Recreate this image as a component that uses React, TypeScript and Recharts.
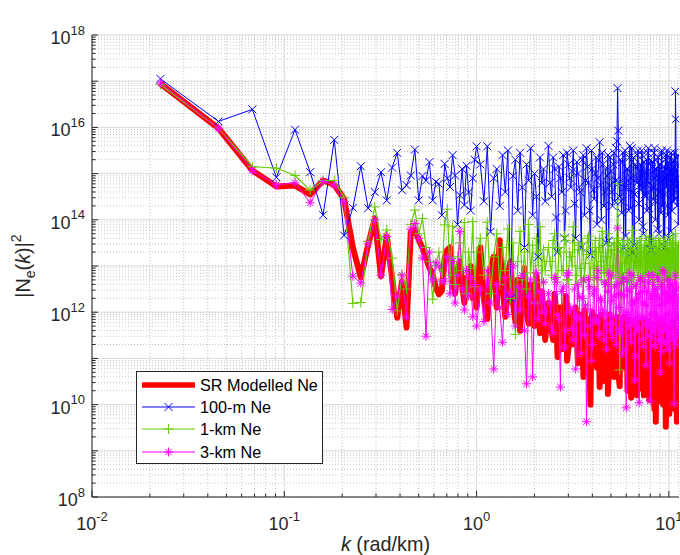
import React from 'react';
import { LineChart, Line, XAxis, YAxis, CartesianGrid, ReferenceLine } from 'recharts';

const FONT = '"Liberation Sans", Arial, Helvetica, sans-serif';
const AXIS_COLOR = '#262626';
const X_MIN = 0.01;
const X_MAX = 11.29;
const Y_MIN = 1e8;
const Y_MAX = 1e18;

// wavenumber bins, rad/km (every bin up to k=1, then thinned out)
const kValues = [
  0.0227, 0.0455, 0.0682, 0.0910, 0.1137, 0.1364, 0.1592, 0.1819, 0.2047, 0.2274,
  0.2501, 0.2729, 0.2956, 0.3184, 0.3411, 0.3638, 0.3866, 0.4093, 0.4321, 0.4548,
  0.4775, 0.5003, 0.5230, 0.5458, 0.5685, 0.5912, 0.6140, 0.6367, 0.6595, 0.6822,
  0.7049, 0.7277, 0.7504, 0.7732, 0.7959, 0.8186, 0.8414, 0.8641, 0.8869, 0.9096,
  0.9323, 0.9551, 0.9778, 1.0006,
  1.046, 1.092, 1.137, 1.182, 1.228, 1.273, 1.319, 1.364, 1.410, 1.455,
  1.501, 1.546, 1.592, 1.637, 1.683, 1.728, 1.774, 1.819, 1.865, 1.910,
  1.956, 2.001, 2.047, 2.092, 2.138, 2.183, 2.229, 2.274,
  2.365, 2.456, 2.547, 2.638, 2.729, 2.820, 2.911, 3.002, 3.093, 3.184,
  3.275, 3.366, 3.456, 3.547, 3.638, 3.729, 3.820, 3.911, 4.002, 4.093,
  4.184, 4.275, 4.366, 4.457, 4.548, 4.639, 4.730, 4.821, 4.912, 5.003,
  5.094, 5.185, 5.276, 5.367, 5.458, 5.549, 5.640, 5.731, 5.821, 5.912,
  6.003, 6.094, 6.185, 6.276, 6.367, 6.458, 6.549, 6.640, 6.731, 6.822,
  6.913, 7.004, 7.095, 7.186, 7.277, 7.368, 7.459, 7.550, 7.641, 7.732,
  7.823, 7.914, 8.004, 8.095, 8.186, 8.277, 8.368, 8.459, 8.550, 8.641,
  8.732, 8.823, 8.914, 9.005, 9.096, 9.187, 9.278, 9.369, 9.460, 9.551,
  9.642, 9.733, 9.824, 9.915, 10.006, 10.097, 10.188, 10.279, 10.370, 10.460,
  10.551, 10.642, 10.733, 10.824, 10.915, 11.006, 11.097, 11.188, 11.279,
];

// log10 |Ne(k)|^2
const srModelledLog = [
  16.95, 15.98, 15.07, 14.72, 14.74, 14.55, 14.85, 14.76, 14.45, 13.40,
  12.75, 13.46, 14.03, 12.78, 13.64, 12.74, 11.88, 12.67, 11.67, 13.74,
  13.78, 13.57, 13.39, 13.17, 12.96, 12.81, 12.53, 12.39, 12.46, 13.17,
  13.35, 13.40, 12.70, 12.40, 12.90, 13.10, 12.60, 12.20, 12.75, 12.50,
  13.00, 12.30, 12.65, 12.10,
  13.40, 12.30, 11.85, 12.90, 13.20, 12.10, 13.56, 12.60, 11.90, 12.80,
  13.10, 12.20, 11.80, 12.70, 11.60, 12.50, 12.95, 12.00, 11.75, 12.60,
  12.20, 11.70, 12.80, 12.30, 11.55, 12.45, 12.00, 11.40,
  12.20, 11.60, 12.40, 11.03, 12.10, 11.50, 12.35, 11.20, 12.00, 11.40,
  12.10, 10.90, 11.95, 11.55, 12.05, 10.70, 11.85, 10.00, 12.00, 11.30,
  11.90, 11.60, 10.38, 11.95, 11.10, 11.80, 11.45, 10.23, 11.95, 11.25,
  11.85, 10.60, 11.70, 11.90, 11.40, 10.40, 11.80, 11.20, 11.90, 10.80,
  11.75, 10.30, 11.85, 11.35, 10.15, 11.65, 11.80, 10.50, 11.55, 10.20,
  11.80, 11.15, 10.35, 11.70, 10.70, 11.85, 10.25, 11.50, 11.75, 10.45,
  11.80, 10.10, 11.60, 11.30, 10.60, 11.75, 10.20, 11.55, 9.63, 11.70,
  10.50, 11.65, 10.15, 11.80, 11.25, 10.05, 11.60, 10.40, 11.75, 10.80,
  9.52, 11.55, 11.20, 10.25, 11.70, 10.10, 11.50, 11.00, 10.30, 11.65,
  10.05, 11.50, 11.15, 10.20, 11.60, 9.63, 11.45, 10.35, 11.70,
];

const ne100mLog = [
  17.05, 16.13, 16.39, 14.92, 15.95, 15.03, 14.10, 15.73, 13.66, 14.26,
  15.16, 14.25, 14.60, 15.03, 14.42, 15.13, 15.45, 14.64, 14.75, 14.96,
  15.52, 14.42, 14.95, 14.85, 15.25, 14.42, 14.82, 14.78, 14.10, 15.21,
  14.90, 14.71, 15.40, 14.96, 13.90, 14.53, 15.10, 14.32, 15.17, 14.60,
  14.20, 14.90, 15.30, 15.59,
  15.20, 14.40, 15.59, 13.74, 14.90, 15.10, 14.30, 15.40, 14.60, 15.50,
  12.30, 14.95, 15.30, 14.20, 15.45, 14.70, 13.40, 15.20, 14.85, 15.55,
  14.10, 15.00, 14.50, 13.20, 15.35, 14.80, 15.10, 14.40,
  15.60, 14.50, 15.10, 13.30, 14.90, 15.40, 14.20, 15.20, 14.70, 15.50,
  13.60, 15.00, 14.60, 15.30, 14.10, 15.55, 14.80, 13.25, 15.10, 14.45,
  15.35, 14.90, 15.68, 14.00, 15.20, 14.60, 13.50, 15.40, 14.75, 15.05,
  14.30, 15.45, 14.85, 15.70, 15.93, 14.50, 14.40, 15.25, 13.40, 15.50,
  14.70, 15.10, 14.20, 15.60, 14.90, 13.30, 15.35, 14.55, 15.15, 14.80,
  15.50, 14.00, 15.20, 14.65, 15.40, 13.70, 15.05, 14.50, 15.30, 14.85,
  15.55, 14.25, 15.00, 13.35, 15.25, 14.70, 15.45, 14.40, 15.10, 14.95,
  13.80, 15.35, 14.60, 15.20, 14.15, 15.50, 14.85, 13.45, 15.15, 14.55,
  15.40, 14.90, 14.30, 15.25, 13.60, 15.05, 14.70, 15.45, 14.20, 15.00,
  14.80, 15.30, 14.45, 16.78, 14.70, 14.60, 15.20, 13.90, 14.95,
];

const ne1kmLog = [
  16.93, 15.98, 15.15, 15.12, 14.96, 14.64, 14.85, 14.85, 14.48, 12.19,
  12.21, 13.53, 14.28, 13.57, 13.78, 13.17, 12.03, 12.82, 12.50, 13.90,
  14.21, 13.70, 14.03, 13.40, 13.10, 12.28, 13.00, 13.30, 12.70, 13.89,
  14.23, 12.80, 13.86, 12.60, 13.20, 13.50, 12.90, 13.94, 12.40, 13.30,
  12.95, 13.96, 12.55, 13.30,
  13.60, 12.80, 13.95, 12.40, 13.20, 13.70, 12.60, 13.40, 12.90, 13.80,
  12.30, 13.50, 11.52, 13.10, 13.75, 12.70, 13.30, 12.50, 13.90, 12.85,
  13.45, 12.20, 13.60, 13.00, 13.85, 12.65, 13.35, 12.90,
  13.40, 12.80, 13.70, 12.65, 13.30, 12.90, 13.55, 12.70, 13.20, 13.85,
  12.60, 13.35, 12.95, 13.50, 12.75, 13.25, 13.65, 12.80, 13.40, 12.55,
  13.30, 13.00, 13.60, 12.70, 13.45, 12.85, 13.20, 13.70, 12.65, 13.35,
  12.90, 13.50, 12.75, 13.60, 13.50, 10.75, 13.30, 12.70, 13.45, 12.85,
  13.25, 13.55, 12.70, 13.40, 12.95, 13.77, 12.60, 13.30, 13.00, 13.50,
  12.75, 13.35, 12.85, 13.60, 12.65, 13.20, 13.45, 12.80, 13.30, 12.95,
  13.55, 12.70, 13.40, 12.90, 13.25, 13.60, 12.75, 13.35, 12.85, 13.45,
  12.65, 13.30, 13.00, 13.50, 12.80, 13.20, 13.40, 12.70, 13.55, 12.90,
  13.35, 12.75, 13.45, 12.85, 13.25, 13.60, 12.70, 13.30, 12.95, 13.50,
  12.80, 13.40, 12.90, 13.70, 12.75, 13.35, 13.05, 13.45, 12.85,
];

const ne3kmLog = [
  16.96, 15.98, 15.07, 14.76, 14.80, 14.37, 14.83, 14.75, 14.39, 12.78,
  12.63, 13.48, 14.00, 12.80, 13.64, 12.06, 12.35, 12.80, 11.90, 13.80,
  13.92, 13.60, 13.17, 11.48, 13.30, 12.70, 13.07, 13.00, 12.67, 12.67,
  13.20, 12.40, 13.10, 12.20, 12.80, 13.75, 12.50, 12.05, 12.90, 12.35,
  12.75, 11.90, 12.60, 11.70,
  12.50, 11.80, 12.90, 12.20, 10.77, 12.60, 12.10, 11.35, 12.75, 11.95,
  12.40, 13.00, 11.70, 12.55, 12.05, 12.80, 11.60, 10.45, 12.35, 12.70,
  10.60, 12.20, 12.85, 11.85, 12.45, 12.00, 12.65, 11.75,
  12.40, 11.70, 12.75, 11.95, 10.38, 12.55, 11.60, 12.85, 12.10, 11.40,
  10.77, 12.60, 11.85, 12.30, 11.50, 9.63, 12.70, 12.05, 11.30, 12.50,
  11.80, 12.90, 11.55, 12.25, 11.95, 12.65, 11.20, 12.45, 11.75, 12.80,
  11.45, 12.35, 11.90, 12.60, 12.40, 11.65, 12.40, 11.10, 12.75, 12.00,
  9.93, 12.50, 11.70, 12.85, 11.35, 12.20, 11.85, 10.53, 12.55, 11.60,
  12.30, 10.04, 12.70, 11.90, 12.45, 11.25, 12.65, 11.75, 12.15, 11.50,
  12.80, 11.80, 10.08, 12.40, 11.65, 12.60, 11.95, 11.30, 12.50, 11.70,
  12.75, 11.40, 12.30, 11.85, 12.55, 11.15, 12.90, 11.60, 12.20, 11.90,
  12.45, 11.35, 12.70, 11.75, 12.35, 10.90, 12.60, 11.55, 12.25, 11.80,
  12.50, 10.02, 12.40, 11.70, 12.65, 11.45, 12.30, 11.85, 12.55,
];

// the bins in between, for k > 2.4 where the curves get dense
const kFill = [
  2.410, 2.501, 2.592, 2.683, 2.774, 2.865, 2.956, 3.047, 3.138, 3.229,
  3.320, 3.411, 3.502, 3.593, 3.684, 3.775, 3.866, 3.957, 4.048, 4.139,
  4.230, 4.321, 4.412, 4.503, 4.593, 4.684, 4.775, 4.866, 4.957, 5.048,
  5.139, 5.230, 5.321, 5.412, 5.503, 5.594, 5.685, 5.776, 5.867, 5.958,
  6.049, 6.140, 6.231, 6.322, 6.413, 6.504, 6.595, 6.686, 6.777, 6.867,
  6.958, 7.049, 7.140, 7.231, 7.322, 7.413, 7.504, 7.595, 7.686, 7.777,
  7.868, 7.959, 8.050, 8.141, 8.232, 8.323, 8.414, 8.505, 8.596, 8.687,
  8.778, 8.869, 8.960, 9.051, 9.141, 9.232, 9.323, 9.414, 9.505, 9.596,
  9.687, 9.778, 9.869, 9.960, 10.051, 10.142, 10.233, 10.324, 10.415, 10.506,
  10.597, 10.688, 10.779, 10.870, 10.961, 11.052, 11.143, 11.234,
];

const srModelledFill = [
  11.80, 11.40, 12.00, 11.60, 11.20, 11.90, 10.95, 11.70, 11.30, 11.85,
  11.50, 11.10, 11.75, 10.60, 11.65, 11.40, 10.90, 11.80, 11.20, 11.55,
  10.80, 11.70, 11.35, 10.50, 11.60, 11.00, 11.75, 10.70, 11.50, 11.25,
  10.90, 11.65, 11.10, 11.45, 10.55, 11.70, 11.20, 10.85, 11.60, 11.05,
  11.50, 10.40, 11.65, 11.15, 10.75, 11.55, 10.95, 11.40, 10.30, 11.60,
  11.10, 10.65, 11.50, 10.90, 11.35, 10.20, 11.55, 11.00, 10.70, 11.45,
  10.35, 11.50, 10.85, 11.25, 10.55, 11.40, 9.90, 11.30, 10.75, 11.50,
  10.25, 11.35, 10.95, 11.15, 10.45, 11.40, 10.00, 11.25, 10.65, 11.45,
  10.15, 11.30, 10.80, 11.10, 9.80, 11.35, 10.55, 11.20, 10.05, 11.40,
  10.40, 11.25, 9.90, 11.30, 10.60, 11.15, 10.25, 11.35,
];

const ne100mFill = [
  14.80, 15.35, 14.05, 15.15, 14.60, 13.60, 15.45, 14.90, 15.05, 14.35,
  15.25, 14.70, 13.40, 15.40, 14.85, 15.15, 14.20, 15.50, 14.65, 15.00,
  13.90, 15.30, 14.75, 15.45, 14.30, 15.10, 14.95, 13.55, 15.35, 14.60,
  15.20, 14.40, 15.55, 16.85, 14.80, 15.30, 14.15, 15.45, 14.70, 13.65,
  15.10, 14.85, 15.35, 14.25, 15.55, 14.60, 13.45, 15.20, 14.90, 15.40,
  14.35, 15.05, 14.75, 15.50, 13.85, 15.25, 14.55, 15.00, 14.20, 15.45,
  14.80, 13.50, 15.30, 14.65, 15.15, 14.45, 15.55, 14.00, 15.10, 14.85,
  15.35, 13.70, 15.20, 14.60, 15.45, 14.30, 15.05, 14.90, 13.40, 15.30,
  14.70, 15.50, 14.10, 15.15, 14.85, 15.35, 13.75, 15.05, 14.55, 15.25,
  14.40, 15.45, 14.90, 16.18, 15.10, 14.30, 15.40, 14.75,
];

const ne1kmFill = [
  13.10, 13.55, 12.75, 13.40, 12.90, 13.65, 12.70, 13.30, 13.00, 13.50,
  12.80, 13.45, 12.65, 13.35, 13.05, 13.60, 12.75, 13.25, 12.95, 13.55,
  12.70, 13.40, 13.10, 13.75, 12.85, 13.30, 12.60, 13.50, 13.00, 13.35,
  12.80, 13.45, 12.95, 14.78, 12.90, 13.40, 12.65, 13.55, 13.05, 13.30,
  12.85, 13.50, 12.70, 13.35, 13.10, 13.60, 12.80, 13.25, 12.95, 13.45,
  12.75, 13.55, 13.00, 13.30, 12.70, 13.40, 12.90, 13.65, 12.85, 13.25,
  13.05, 13.50, 12.75, 13.35, 12.95, 13.45, 12.70, 13.55, 13.00, 13.30,
  12.85, 13.60, 12.80, 13.40, 13.05, 13.25, 12.65, 13.50, 12.95, 13.35,
  12.80, 13.45, 13.10, 13.30, 12.70, 13.55, 12.90, 13.40, 13.00, 13.65,
  12.85, 13.30, 12.75, 13.50, 13.05, 13.35, 12.80, 13.45,
];

const ne3kmFill = [
  12.20, 11.55, 12.65, 11.85, 12.45, 11.25, 12.80, 12.00, 11.65, 12.50,
  11.90, 12.35, 11.10, 12.70, 12.15, 11.70, 12.55, 10.95, 12.40, 11.80,
  12.75, 11.50, 12.30, 12.05, 11.40, 12.60, 11.95, 12.85, 11.60, 12.25,
  11.75, 12.55, 11.30, 13.82, 12.10, 11.55, 12.65, 11.85, 12.35, 11.20,
  12.70, 11.95, 12.45, 11.50, 12.80, 11.75, 12.25, 11.05, 12.60, 11.90,
  12.40, 11.65, 12.75, 11.40, 12.20, 11.85, 12.55, 10.85, 12.45, 11.70,
  12.65, 11.95, 12.30, 11.45, 12.80, 11.60, 12.50, 11.25, 12.35, 11.90,
  12.70, 11.55, 12.15, 10.70, 12.60, 11.80, 12.40, 11.35, 12.85, 11.65,
  12.25, 11.95, 12.55, 11.20, 12.70, 11.50, 12.35, 11.80, 12.60, 11.40,
  12.45, 11.75, 12.80, 11.30, 12.50, 11.90, 12.20, 11.60,
];

const xTicks = [
  0.01, 0.02, 0.03, 0.04, 0.05, 0.06, 0.07, 0.08, 0.09,
  0.1, 0.2, 0.3, 0.4, 0.5, 0.6, 0.7, 0.8, 0.9,
  1, 2, 3, 4, 5, 6, 7, 8, 9, 10,
];
const xDecades = [0.01, 0.1, 1, 10];
const yDecades = [1e8, 1e9, 1e10, 1e11, 1e12, 1e13, 1e14, 1e15, 1e16, 1e17, 1e18];
const minorSteps = [1, 2, 3, 4, 5, 6, 7, 8, 9];
const yTicks = yDecades.slice(0, -1).flatMap((d) => minorSteps.map((m) => m * d)).concat([Y_MAX]);
const yLabelExponents = [8, 10, 12, 14, 16, 18];

const legendItems = [
  { label: 'SR Modelled Ne', color: '#ff0000', width: 5.5, marker: null },
  { label: '100-m Ne', color: '#0000ff', width: 1, marker: 'x' },
  { label: '1-km Ne', color: '#66cc00', width: 1, marker: '+' },
  { label: '3-km Ne', color: '#ff00ff', width: 1, marker: '*' },
];

const toRow = (k: number, sr: number, b: number, g: number, m: number) => ({
  k,
  sr: Math.pow(10, sr),
  ne100m: Math.pow(10, b),
  ne1km: Math.pow(10, g),
  ne3km: Math.pow(10, m),
});

const chartData = [
  ...kValues.map((k, i) => toRow(k, srModelledLog[i], ne100mLog[i], ne1kmLog[i], ne3kmLog[i])),
  ...kFill.map((k, i) => toRow(k, srModelledFill[i], ne100mFill[i], ne1kmFill[i], ne3kmFill[i])),
].sort((a, b) => a.k - b.k);

function markerPath(kind: string, cx: number, cy: number) {
  if (kind === 'x') {
    const s = 4;
    return `M${cx - s},${cy - s}L${cx + s},${cy + s}M${cx - s},${cy + s}L${cx + s},${cy - s}`;
  }
  if (kind === '+') {
    const s = 5;
    return `M${cx - s},${cy}L${cx + s},${cy}M${cx},${cy - s}L${cx},${cy + s}`;
  }
  const s = 4.5;
  const d = 3.2;
  return `M${cx - s},${cy}L${cx + s},${cy}M${cx},${cy - s}L${cx},${cy + s}` +
    `M${cx - d},${cy - d}L${cx + d},${cy + d}M${cx - d},${cy + d}L${cx + d},${cy - d}`;
}

const makeDot = (kind: string, color: string) => (props: any) => {
  const { cx, cy, index } = props;
  if (cx == null || cy == null || isNaN(cx) || isNaN(cy)) return <g key={`${kind}-${index}`} />;
  return <path key={`${kind}-${index}`} d={markerPath(kind, cx, cy)} stroke={color} strokeWidth={1} fill="none" />;
};

const isDecade = (v: number) => {
  const e = Math.log10(v);
  return Math.abs(e - Math.round(e)) < 1e-6;
};

function BottomTick(props: any) {
  const { x, y, payload } = props;
  const major = isDecade(payload.value);
  const e = Math.round(Math.log10(payload.value));
  return (
    <g>
      <line x1={x} x2={x} y1={y} y2={y - (major ? 6 : 3.5)} stroke={AXIS_COLOR} strokeWidth={1} />
      {major && (
        <text x={x} y={y + 33} textAnchor="middle" fontFamily={FONT} fontSize={18} fill={AXIS_COLOR}>
          10<tspan dy={-9} fontSize={13}>{String(e)}</tspan>
        </text>
      )}
    </g>
  );
}

function TopTick(props: any) {
  const { x, y, payload } = props;
  const major = isDecade(payload.value);
  return <line x1={x} x2={x} y1={y} y2={y + (major ? 6 : 3.5)} stroke={AXIS_COLOR} strokeWidth={1} />;
}

function LeftTick(props: any) {
  const { x, y, payload } = props;
  const major = isDecade(payload.value);
  const e = Math.round(Math.log10(payload.value));
  return (
    <g>
      <line x1={x} x2={x + (major ? 6 : 3.5)} y1={y} y2={y} stroke={AXIS_COLOR} strokeWidth={1} />
      {major && yLabelExponents.includes(e) && (
        <text x={x - 7} y={y + 9} textAnchor="end" fontFamily={FONT} fontSize={18} fill={AXIS_COLOR}>
          10<tspan dy={-9.5} fontSize={13}>{String(e)}</tspan>
        </text>
      )}
    </g>
  );
}

function RightTick(props: any) {
  const { x, y, payload } = props;
  const major = isDecade(payload.value);
  return <line x1={x} x2={x - (major ? 6 : 3.5)} y1={y} y2={y} stroke={AXIS_COLOR} strokeWidth={1} />;
}

function TitleLabel() {
  return (
    <text x={385.5} y={26} textAnchor="middle" fontFamily={FONT} fontSize={19.8} fontWeight="bold" fill="#000">
      Wavenumber Spectrum Comparision
    </text>
  );
}

function XLabel() {
  return (
    <text x={385.5} y={551} textAnchor="middle" fontFamily={FONT} fontSize={19.8} fill={AXIS_COLOR}>
      <tspan fontStyle="italic">k</tspan>{' (rad/km)'}
    </text>
  );
}

function YLabel() {
  return (
    <text transform="translate(30,266) rotate(-90)" textAnchor="middle" fontFamily={FONT} fontSize={19.8} fill={AXIS_COLOR}>
      {'|N'}<tspan dy={5} fontSize={14}>e</tspan><tspan dy={-5}>(</tspan><tspan fontStyle="italic">k</tspan><tspan>{')|'}</tspan><tspan dy={-9} fontSize={14}>2</tspan>
    </text>
  );
}

function LegendBox() {
  return (
    <div
      style={{
        position: 'absolute',
        left: 136,
        top: 371,
        width: 187,
        height: 93,
        boxSizing: 'border-box',
        border: `1px solid ${AXIS_COLOR}`,
        background: '#fff',
        fontFamily: FONT,
        fontSize: 16.2,
        color: '#000',
      }}
    >
      {legendItems.map((it, i) => (
        <div
          key={it.label}
          style={{ position: 'absolute', left: 0, top: 2 + i * 22.2, height: 22, display: 'flex', alignItems: 'center' }}
        >
          <svg width={63} height={22} style={{ flex: 'none' }}>
            <line x1={5} x2={58} y1={11} y2={11} stroke={it.color} strokeWidth={it.width} />
            {it.marker && <path d={markerPath(it.marker, 31.5, 11)} stroke={it.color} strokeWidth={1} fill="none" />}
          </svg>
          <span style={{ lineHeight: '22px', whiteSpace: 'nowrap' }}>{it.label}</span>
        </div>
      ))}
    </div>
  );
}

export default function App() {
  return (
    <div style={{ position: 'absolute', left: 0, top: 0, width: 680, height: 555, background: '#fff', overflow: 'hidden' }}>
      <LineChart width={680} height={555} data={chartData} margin={{ top: 35, right: 1, bottom: 0, left: 0 }}>
        <CartesianGrid stroke="#c4c4c4" strokeDasharray="1 2" strokeWidth={1} />
        {xDecades.map((v) => (
          <ReferenceLine key={`gx${v}`} x={v} stroke="#dddddd" strokeWidth={1} />
        ))}
        {yDecades.map((v) => (
          <ReferenceLine key={`gy${v}`} y={v} stroke="#dddddd" strokeWidth={1} />
        ))}
        <XAxis
          dataKey="k"
          type="number"
          scale="log"
          domain={[X_MIN, X_MAX]}
          allowDataOverflow
          ticks={xTicks}
          interval={0}
          tickSize={0}
          tickMargin={0}
          tickLine={false}
          tick={BottomTick}
          height={58}
          axisLine={{ stroke: AXIS_COLOR }}
          label={<XLabel />}
        />
        <XAxis
          xAxisId="top"
          orientation="top"
          dataKey="k"
          type="number"
          scale="log"
          domain={[X_MIN, X_MAX]}
          allowDataOverflow
          ticks={xTicks}
          interval={0}
          tickSize={0}
          tickMargin={0}
          tickLine={false}
          tick={TopTick}
          height={0}
          axisLine={{ stroke: AXIS_COLOR }}
          label={<TitleLabel />}
        />
        <YAxis
          type="number"
          scale="log"
          domain={[Y_MIN, Y_MAX]}
          allowDataOverflow
          ticks={yTicks}
          interval={0}
          tickSize={0}
          tickMargin={0}
          tickLine={false}
          tick={LeftTick}
          width={92}
          axisLine={{ stroke: AXIS_COLOR }}
          label={<YLabel />}
        />
        <YAxis
          yAxisId="right"
          orientation="right"
          type="number"
          scale="log"
          domain={[Y_MIN, Y_MAX]}
          allowDataOverflow
          ticks={yTicks}
          interval={0}
          tickSize={0}
          tickMargin={0}
          tickLine={false}
          tick={RightTick}
          width={0}
          axisLine={{ stroke: AXIS_COLOR }}
        />
        <Line
          type="linear"
          dataKey="sr"
          stroke="#ff0000"
          strokeWidth={6}
          strokeLinejoin="round"
          dot={false}
          activeDot={false}
          isAnimationActive={false}
        />
        <Line
          type="linear"
          dataKey="ne100m"
          stroke="#0000ff"
          strokeWidth={1}
          dot={makeDot('x', '#0000ff')}
          activeDot={false}
          isAnimationActive={false}
        />
        <Line
          type="linear"
          dataKey="ne1km"
          stroke="#66cc00"
          strokeWidth={1.2}
          dot={makeDot('+', '#66cc00')}
          activeDot={false}
          isAnimationActive={false}
        />
        <Line
          type="linear"
          dataKey="ne3km"
          stroke="#ff00ff"
          strokeWidth={1}
          dot={makeDot('*', '#ff00ff')}
          activeDot={false}
          isAnimationActive={false}
        />
      </LineChart>
      <LegendBox />
    </div>
  );
}
